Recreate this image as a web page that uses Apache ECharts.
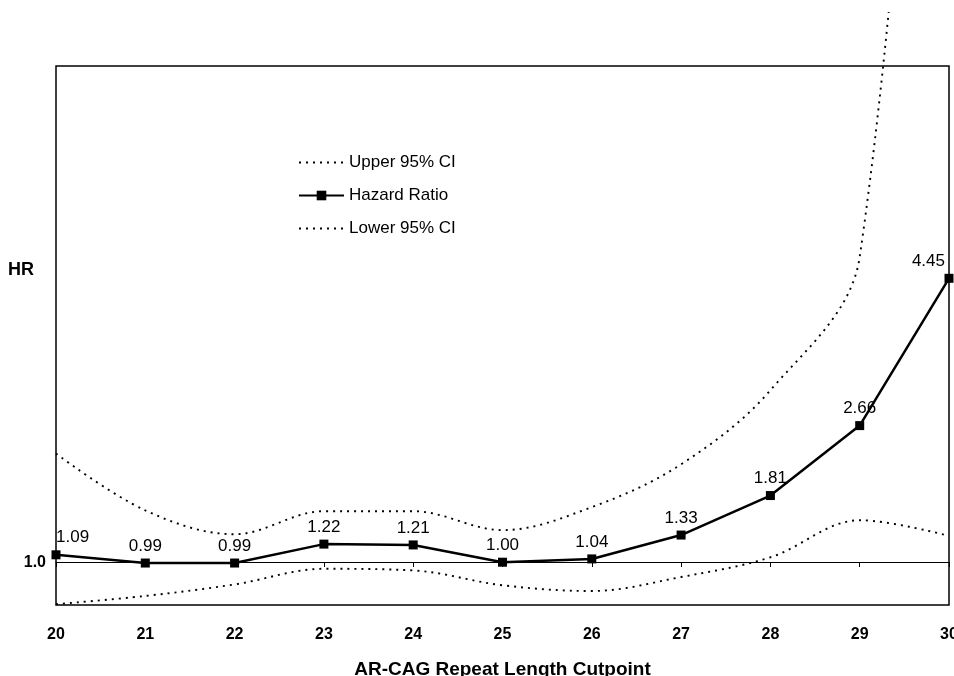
<!DOCTYPE html>
<html>
<head>
<meta charset="utf-8">
<script src="https://cdn.jsdelivr.net/npm/echarts@6/dist/echarts.min.js"></script>
<style>
  html, body { margin: 0; padding: 0; background: #fff; overflow: hidden; }
  #main { position: absolute; left: 0; top: 12px; width: 954px; height: 664px; }
</style>
</head>
<body>
<div id="main"></div>
<script>
// cutpoints on the x axis
const cutpoints = ['20', '21', '22', '23', '24', '25', '26', '27', '28', '29', '30'];
// hazard ratio and its 95% CI
const hazardRatio = [1.09, 0.99, 0.99, 1.22, 1.21, 1.00, 1.04, 1.33, 1.81, 2.66, 4.45];
const upperCI = [2.32, 1.63, 1.34, 1.62, 1.62, 1.39, 1.67, 2.19, 3.09, 4.71, 18.0];
const lowerCI = [0.49, 0.59, 0.73, 0.92, 0.90, 0.72, 0.65, 0.82, 1.06, 1.51, 1.32];
const refLine = [1.0];

const FONT = '"Liberation Sans", Arial, sans-serif';

const chart = echarts.init(document.getElementById('main'), null, { width: 954, height: 664 });

// first / last label pushed inside the box, like the original
const hrData = hazardRatio.map((v, i) => {
  if (i === 0) return { value: v, label: { align: 'left', offset: [0, 0] } };
  if (i === hazardRatio.length - 1) return { value: v, label: { align: 'right', offset: [-4, 0] } };
  return v;
});

const ciStyle = {
  type: 'line',
  smooth: 0.35,
  symbol: 'none',
  clip: false,
  itemStyle: { color: 'rgba(0,0,0,0)' },
  lineStyle: { color: '#000', width: 1.9, type: [2, 5] },
  z: 2
};

chart.setOption({
  animation: false,
  textStyle: { fontFamily: FONT },
  grid: {
    show: true,
    left: 56,
    right: 5,
    top: 54,
    bottom: 71,
    outerBoundsMode: 'none',
    containLabel: false,
    borderColor: '#000',
    borderWidth: 1.5
  },
  legend: {
    orient: 'vertical',
    left: 298,
    top: 142,
    padding: 0,
    itemWidth: 45,
    itemHeight: 12,
    itemGap: 16,
    data: [
      { name: 'Upper 95% CI', itemStyle: { opacity: 0 } },
      { name: 'Hazard Ratio' },
      { name: 'Lower 95% CI', itemStyle: { opacity: 0 } }
    ],
    textStyle: { fontFamily: FONT, fontSize: 17, color: '#000' }
  },
  graphic: [
    {
      type: 'text',
      left: 8,
      top: 249,
      style: { text: 'HR', fontFamily: FONT, fontSize: 18, fontWeight: 'bold', fill: '#000' }
    }
  ],
  xAxis: [
    {
      type: 'category',
      data: cutpoints,
      boundaryGap: false,
      position: 'bottom',
      axisLine: { show: false },
      axisTick: { show: false },
      axisLabel: { color: '#000', fontSize: 16, fontWeight: 'bold', margin: 22, fontFamily: FONT },
      name: 'AR-CAG Repeat Length Cutpoint',
      nameLocation: 'middle',
      nameGap: 55,
      nameTextStyle: { color: '#000', fontSize: 19, fontWeight: 'bold', fontFamily: FONT }
    },
    {
      // the HR = 1.0 reference axis with its tick marks
      type: 'category',
      data: cutpoints,
      boundaryGap: false,
      position: 'bottom',
      offset: -43,
      axisLine: { show: true, lineStyle: { color: '#000', width: 1.2 } },
      axisTick: { show: true, length: 5, lineStyle: { color: '#000', width: 1 } },
      axisLabel: { show: false }
    }
  ],
  yAxis: {
    type: 'value',
    min: 0.48,
    max: 7.03,
    splitLine: { show: false },
    axisLine: { show: false },
    axisTick: { show: false },
    axisLabel: {
      customValues: refLine,
      formatter: v => v.toFixed(1),
      color: '#000',
      fontSize: 16,
      fontWeight: 'bold',
      margin: 10,
      fontFamily: FONT
    }
  },
  series: [
    Object.assign({ name: 'Upper 95% CI', data: upperCI }, ciStyle),
    {
      name: 'Hazard Ratio',
      type: 'line',
      data: hrData,
      symbol: 'rect',
      symbolSize: 9,
      itemStyle: { color: '#000' },
      lineStyle: { color: '#000', width: 2.5 },
      label: {
        show: true,
        position: 'top',
        distance: 4,
        formatter: p => p.value.toFixed(2),
        color: '#000',
        fontSize: 17,
        fontFamily: FONT
      },
      z: 3
    },
    Object.assign({ name: 'Lower 95% CI', data: lowerCI }, ciStyle)
  ]
});
</script>
</body>
</html>
